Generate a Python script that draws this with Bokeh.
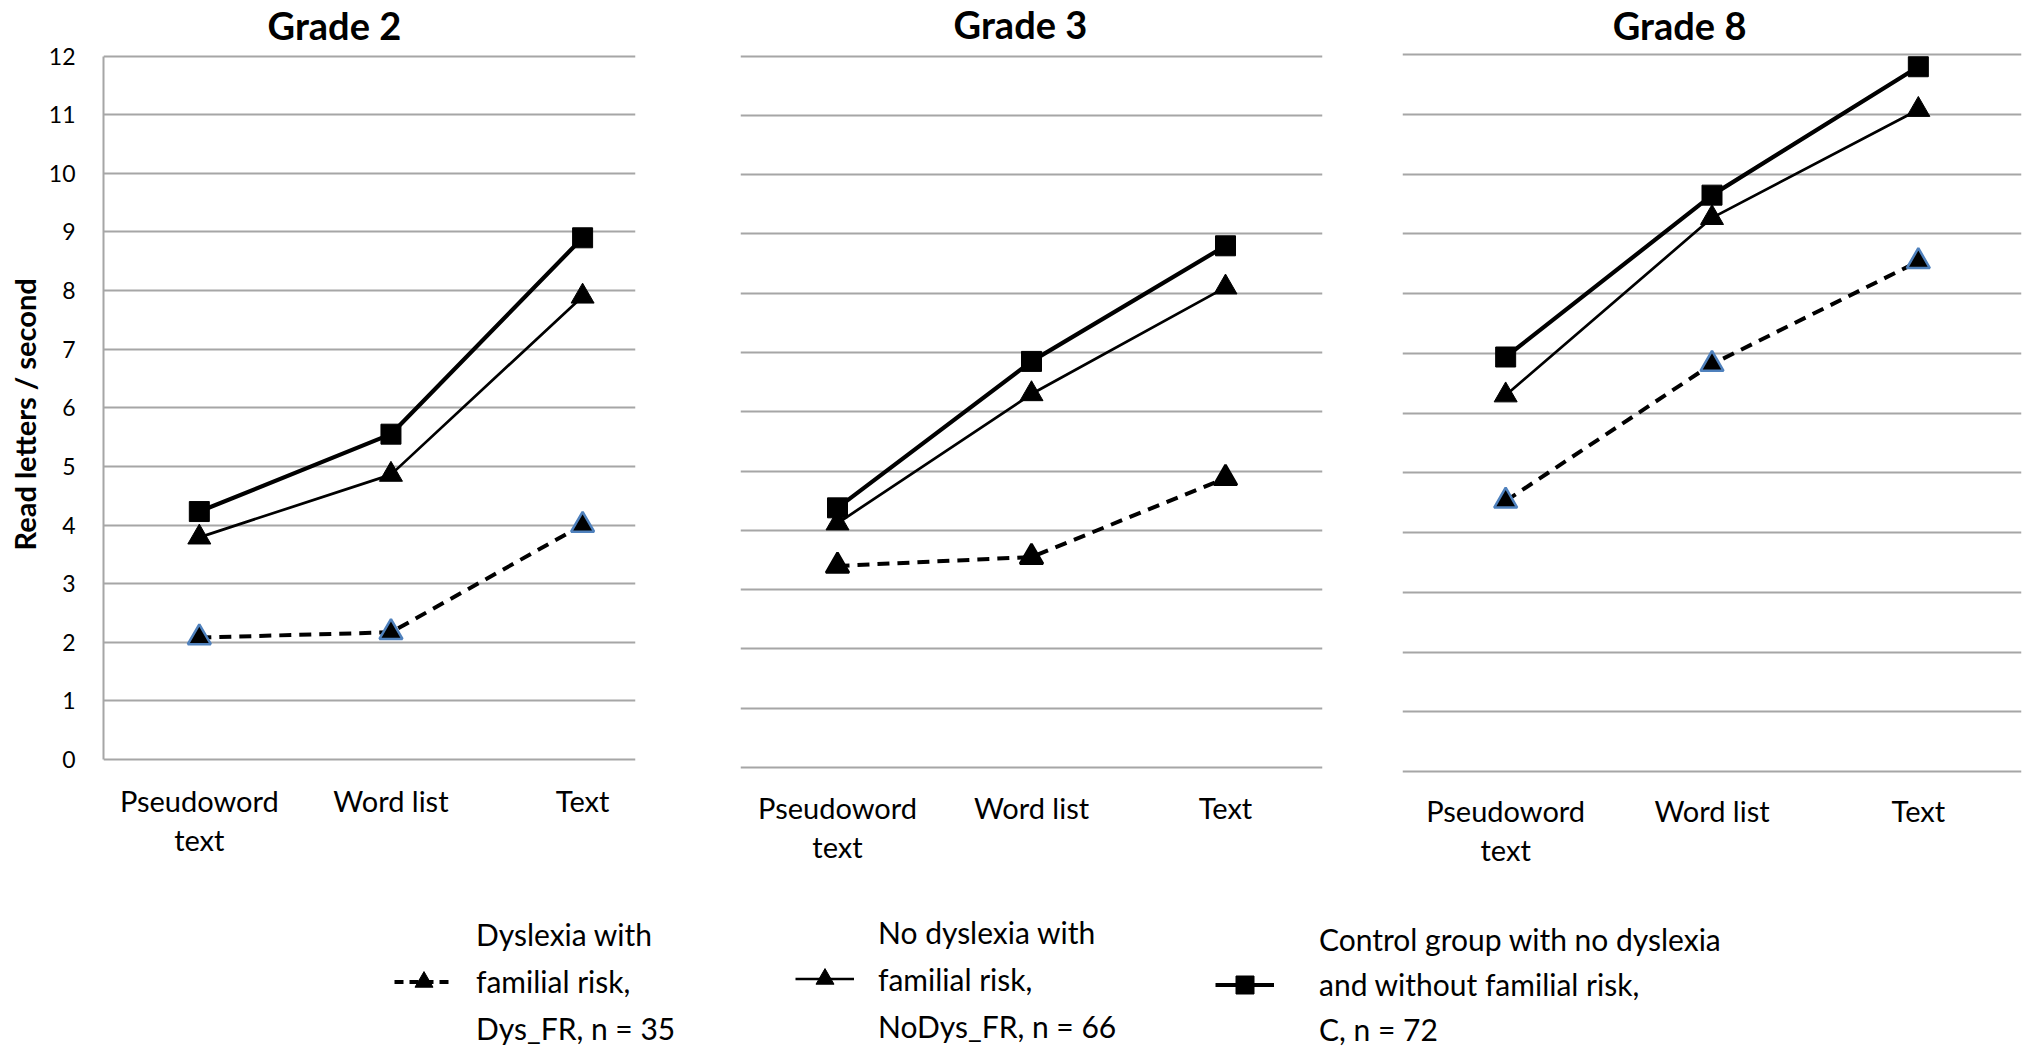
from bokeh.plotting import figure
from bokeh.models import Range1d, FixedTicker, Legend, LegendItem, Title
from bokeh.layouts import column, row
from bokeh.core.properties import value
from bokeh.embed import file_html
from bokeh.resources import INLINE

# ---------------- data ----------------
categories = ["Pseudoword\ntext", "Word list", "Text"]
grades = ["Grade 2", "Grade 3", "Grade 8"]
y_ticks = list(range(0, 13))
y_label = "Read letters / second"

dys_g2 = [2.08, 2.17, 4.00]
nodys_g2 = [3.79, 4.86, 7.90]
c_g2 = [4.23, 5.55, 8.90]

dys_g3 = [3.40, 3.55, 4.88]
nodys_g3 = [4.12, 6.30, 8.10]
c_g3 = [4.38, 6.85, 8.80]

dys_g8 = [4.53, 6.82, 8.54]
nodys_g8 = [6.30, 9.27, 11.08]
c_g8 = [6.94, 9.65, 11.80]

legend_lines = [
    ["Dyslexia with", "familial risk,", "Dys_FR, n = 35"],
    ["No dyslexia with", "familial risk,", "NoDys_FR, n = 66"],
    ["Control group with no dyslexia", "and without familial risk,", "C, n = 72"],
]

FONT = "Lato"
GRID = "#a6a6a6"
BLUE = "#4f81bd"
ROW_H = 888
FRAME_BOTTOM = 774


def make_panel(title, dys, nodys, ctl, width, bl, br, x_end, y_lo, y_hi,
               title_xy, tick_standoff, dys_outline, show_y):
    p = figure(width=width, height=ROW_H, x_range=Range1d(-0.5, x_end),
               y_range=Range1d(y_lo, y_hi), output_backend="svg",
               toolbar_location=None, min_border_left=bl, min_border_right=br,
               min_border_top=0, min_border_bottom=ROW_H - FRAME_BOTTOM,
               outline_line_color=None, background_fill_color="white",
               border_fill_color="white")

    # panel heading, drawn in the headroom above the top gridline
    p.text(x=[title_xy[0]], y=[title_xy[1]], text=[title],
           text_font=value(FONT), text_font_size="38px", text_font_style="bold",
           text_color="black", text_align="center", text_baseline="alphabetic")

    xs = list(range(len(categories)))
    p.xaxis.ticker = FixedTicker(ticks=xs)
    p.xaxis.major_label_overrides = {i: c for i, c in enumerate(categories)}
    p.xaxis.axis_line_color = None
    p.xaxis.major_tick_line_color = None
    p.xaxis.minor_tick_line_color = None
    p.xaxis.major_label_text_font = FONT
    p.xaxis.major_label_text_font_size = "29px"
    p.xaxis.major_label_text_color = "black"
    p.xaxis.major_label_text_line_height = 1.12
    p.xaxis.major_label_standoff = tick_standoff

    p.xgrid.visible = False
    p.ygrid.ticker = FixedTicker(ticks=y_ticks)
    p.ygrid.grid_line_color = GRID
    p.ygrid.grid_line_width = 2

    if show_y:
        p.yaxis.ticker = FixedTicker(ticks=y_ticks)
        p.yaxis.bounds = (0, 12)
        p.yaxis.axis_line_color = GRID
        p.yaxis.axis_line_width = 2
        p.yaxis.major_tick_line_color = None
        p.yaxis.minor_tick_line_color = None
        p.yaxis.major_label_text_font = FONT
        p.yaxis.major_label_text_font_size = "23px"
        p.yaxis.major_label_text_color = "black"
        p.yaxis.major_label_standoff = 22
        p.add_layout(Title(text=y_label, align="left", offset=224,
                           text_font=FONT, text_font_size="29px",
                           text_font_style="bold", text_color="black",
                           standoff=7), "left")
    else:
        p.yaxis.visible = False

    p.line(xs, dys, line_color="black", line_width=4, line_dash="12 8")
    p.scatter(xs, dys, marker="triangle", size=23, fill_color="black",
              line_color=dys_outline, line_width=2.5)
    p.line(xs, nodys, line_color="black", line_width=2.7)
    p.scatter(xs, nodys, marker="triangle", size=23, fill_color="black",
              line_color="black", line_width=1)
    p.line(xs, ctl, line_color="black", line_width=4.2)
    p.scatter(xs, ctl, marker="square", size=20, fill_color="black",
              line_color="black", line_width=1)
    return p


p1 = make_panel(grades[0], dys_g2, nodys_g2, c_g2, 688, 103, 53, 2.276,
                -0.2559, 12.9485, (0.705, 12.539), 2, BLUE, True)
p2 = make_panel(grades[1], dys_g3, nodys_g3, c_g3, 672, 52, 38, 2.5,
                -0.1181, 12.938, (0.943, 12.55), 9, "black", False)
p3 = make_panel(grades[2], dys_g8, nodys_g8, c_g8, 663, 42, 2, 2.5,
                -0.0502, 12.909, (0.843, 12.493), 12, BLUE, False)

# ---------------- legend ----------------
LEG_H = 159
leg = figure(width=2023, height=LEG_H, x_range=Range1d(0, 1), y_range=Range1d(0, 1),
             output_backend="svg", toolbar_location=None, min_border=0,
             outline_line_color=None, background_fill_color="white",
             border_fill_color="white")
leg.axis.visible = False
leg.grid.visible = False

# key renderers (their points lie outside the visible range; only the key shows)
off = [5, 6]
blank = leg.line(off, off, line_alpha=0)
r1l = leg.line(off, off, line_color="black", line_width=4, line_dash="9 6")
r1m = leg.scatter(off, off, marker="triangle", fill_color="black", line_color="black")
r2l = leg.line(off, off, line_color="black", line_width=2.7)
r2m = leg.scatter(off, off, marker="triangle", fill_color="black", line_color="black")
r3l = leg.line(off, off, line_color="black", line_width=4.2)
r3m = leg.scatter(off, off, marker="square", fill_color="black", line_color="black")

specs = [((r1l, r1m), legend_lines[0], (394, -3.5), 23, 2),
         ((r2l, r2m), legend_lines[1], (795, -1.0), 24, 2),
         ((r3l, r3m), legend_lines[2], (1215, -4.5), 45, 0)]
for rends, lines, loc, stand, gap in specs:
    items = [LegendItem(label=value(lines[0]), renderers=[blank]),
             LegendItem(label=value(lines[1]), renderers=list(rends)),
             LegendItem(label=value(lines[2]), renderers=[blank])]
    L = Legend(items=items, location=loc, orientation="vertical",
               glyph_width=59, glyph_height=45, label_standoff=stand,
               label_text_font=FONT, label_text_font_size="30px",
               label_text_color="black", border_line_color=None,
               background_fill_alpha=0, padding=0, margin=0, spacing=gap)
    leg.add_layout(L, "center")

layout = column(row(p1, p2, p3, spacing=0), leg, spacing=0)

open("out.html", "w").write(file_html(layout, INLINE))
